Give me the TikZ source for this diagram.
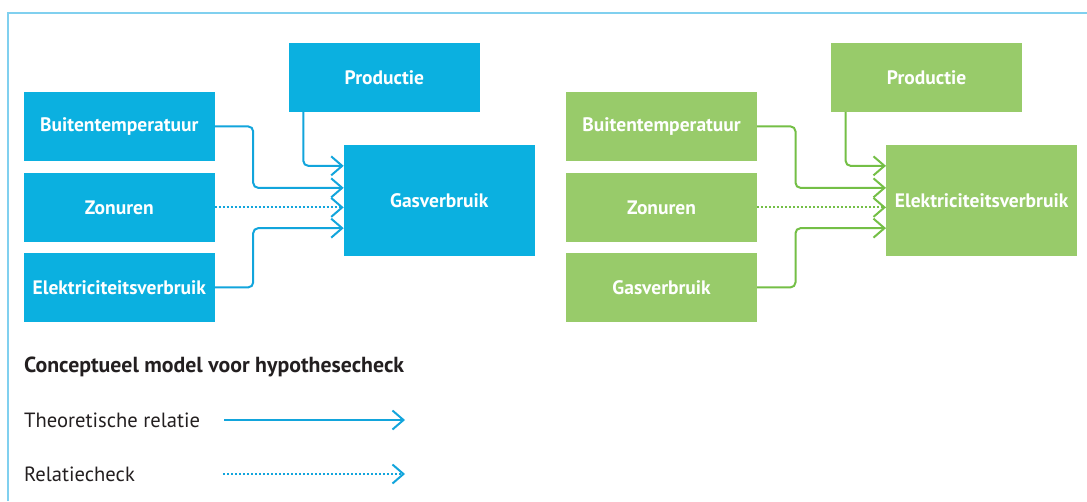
\documentclass[tikz,border=0pt]{standalone}
\usepackage{fontspec}
\setmainfont{PT Sans}
\usetikzlibrary{arrows.meta}

\definecolor{kvblue}{HTML}{0BB0E0}
\definecolor{kvblueline}{HTML}{12A5DC}
\definecolor{kvgreen}{HTML}{98CB6A}
\definecolor{kvgreenline}{HTML}{74BF46}
\definecolor{kvframe}{HTML}{80D0EF}
\definecolor{kvtext}{HTML}{231F20}

\tikzset{
	factor/.style={fill=#1, text=white, font=\bfseries\fontsize{19.5}{22}\selectfont,
		minimum width=190.8pt, minimum height=68.7pt, inner sep=0pt},
	relation/.style={draw=#1, line width=2pt, rounded corners=5pt,
		-{Straight Barb[length=11pt,width=19pt]}},
	check/.style={relation=#1, dash pattern=on 2pt off 2pt},
	legend/.style={anchor=west, inner sep=0pt, text=kvtext, font=\fontsize{20.6}{24}\selectfont},
}

\begin{document}
\begin{tikzpicture}[x=1pt,y=-1pt]
	\useasboundingbox (0,0) rectangle (1087,501);
	% frame: only its top and left edges lie on the page
	\draw[kvframe, line width=2pt] (8.4,501) -- (8.4,12.6) -- (1087,12.6);

	% gas consumption
	\node[factor=kvblue] (b-buiten) at (119.3,126.4) {Buitentemperatuur};
	\node[factor=kvblue] (b-zon) at (119.3,207.4) {Zonuren};
	\node[factor=kvblue] (b-elek) at (119.3,287.4) {Elektriciteitsverbruik};
	\node[factor=kvblue] (b-prod) at (384.3,77.4) {Productie};
	\node[factor=kvblue, minimum height=110.7pt] (b-gas) at (439.3,200.4) {Gasverbruik};

	\draw[relation=kvblueline] (b-prod.south -| 303.3,0) |- ([yshift=-21pt]b-gas.north west);
	\draw[relation=kvblueline] (b-buiten.east) -- ++(38.3,0) |- ([yshift=-43pt]b-gas.north west);
	\draw[check=kvblueline] (b-zon.east) -- (b-gas.west |- b-zon.east);
	\draw[relation=kvblueline] (b-elek.east) -- ++(38.3,0) |- ([yshift=-83.3pt]b-gas.north west);

	% electricity consumption
	\begin{scope}[xshift=542.3pt]
		\node[factor=kvgreen] (g-buiten) at (119.3,126.4) {Buitentemperatuur};
		\node[factor=kvgreen] (g-zon) at (119.3,207.4) {Zonuren};
		\node[factor=kvgreen] (g-gas) at (119.3,287.4) {Gasverbruik};
		\node[factor=kvgreen] (g-prod) at (384.3,77.4) {Productie};
		\node[factor=kvgreen, minimum height=110.7pt] (g-elek) at (439.3,200.4) {Elektriciteitsverbruik};

		\draw[relation=kvgreenline] (g-prod.south -| 303.3,0) |- ([yshift=-21pt]g-elek.north west);
		\draw[relation=kvgreenline] (g-buiten.east) -- ++(38.3,0) |- ([yshift=-43pt]g-elek.north west);
		\draw[check=kvgreenline] (g-zon.east) -- (g-elek.west |- g-zon.east);
		\draw[relation=kvgreenline] (g-gas.east) -- ++(38.3,0) |- ([yshift=-83.3pt]g-elek.north west);
	\end{scope}

	% legend
	\node[legend, font=\bfseries\fontsize{21.8}{24}\selectfont] (l-title) at (24,366.7) {Conceptueel model voor hypothesecheck};
	\node[legend] (l-theory) at (24,420) {Theoretische relatie};
	\node[legend] (l-check) at (24,474) {Relatiecheck};
	\coordinate (l-theory-a) at (224,420);
	\coordinate (l-theory-b) at (405,420);
	\coordinate (l-check-a) at (223,474);
	\coordinate (l-check-b) at (405,474);
	\draw[relation=kvblueline] (l-theory-a) -- (l-theory-b);
	\draw[check=kvblueline] (l-check-a) -- (l-check-b);
\end{tikzpicture}
\end{document}
